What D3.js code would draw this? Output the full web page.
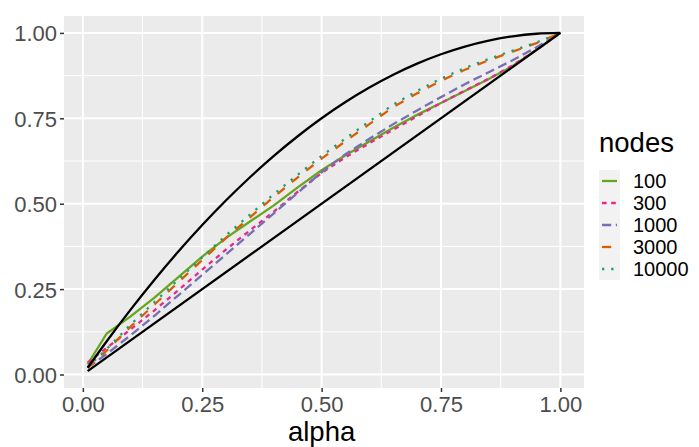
<!DOCTYPE html>
<html>
<head>
<meta charset="utf-8">
<script src="https://cdn.jsdelivr.net/npm/d3@7"></script>
<style>
  body { margin: 0; background: #fff; }
  svg text { font-family: "Liberation Sans", Arial, sans-serif; }
</style>
</head>
<body>
<svg id="chart" width="699" height="447"></svg>
<script>
// alpha grid shared by every series
const alpha = [0.01, 0.05, 0.10, 0.15, 0.20, 0.25, 0.30, 0.35, 0.40, 0.45, 0.50,
               0.55, 0.60, 0.65, 0.70, 0.75, 0.80, 0.85, 0.90, 0.95, 1.00];

const nodes = ["100", "300", "1000", "3000", "10000"];

// values, one array per node count
const n100   = [0.03, 0.12, 0.17, 0.225, 0.285, 0.345, 0.40, 0.448, 0.495, 0.548, 0.598,
                0.642, 0.682, 0.722, 0.76, 0.795, 0.83, 0.865, 0.903, 0.95, 1.00];
const n300   = [0.035, 0.078, 0.132, 0.188, 0.247, 0.307, 0.366, 0.422, 0.477, 0.535, 0.59,
                0.636, 0.677, 0.717, 0.756, 0.795, 0.831, 0.866, 0.905, 0.95, 1.00];
const n1000  = [0.02, 0.06, 0.115, 0.172, 0.232, 0.292, 0.352, 0.412, 0.472, 0.532, 0.592,
                0.645, 0.69, 0.733, 0.773, 0.812, 0.85, 0.885, 0.92, 0.958, 1.00];
const n3000  = [0.02, 0.07, 0.14, 0.205, 0.27, 0.335, 0.40, 0.46, 0.52, 0.577, 0.632,
                0.683, 0.733, 0.783, 0.823, 0.86, 0.892, 0.92, 0.945, 0.97, 1.00];
const n10000 = [0.022, 0.075, 0.146, 0.212, 0.278, 0.343, 0.408, 0.468, 0.528, 0.585, 0.64,
                0.691, 0.741, 0.79, 0.83, 0.866, 0.897, 0.924, 0.948, 0.972, 1.00];

// black reference curves
const upperBound = [0.0199, 0.0975, 0.19, 0.2775, 0.36, 0.4375, 0.51, 0.5775, 0.64, 0.6975, 0.75,
                    0.7975, 0.84, 0.8775, 0.91, 0.9375, 0.96, 0.9775, 0.99, 0.9975, 1.00];
const lowerX = [0.01, 1.00];
const lowerBound = [0.01, 1.00];

const xTicks = [0, 0.25, 0.5, 0.75, 1];
const yTicks = [0, 0.25, 0.5, 0.75, 1];

const series = [n100, n300, n1000, n3000, n10000];
const colors = ["#66A61E", "#E7298A", "#7570B3", "#D95F02", "#1B9E77"];
const lw = 2.3;
const dashes = [null, `${lw*2},${lw*2}`, `${lw*4},${lw*2}`, `${lw*4},${lw*4}`, `${lw},${lw*3}`];

const svg = d3.select("#chart");
const panel = {left: 64, right: 584, top: 16, bottom: 388};

// ggplot-style 5% expansion of the data range 0.01..1
const x = d3.scaleLinear().domain([-0.0395, 1.0495]).range([panel.left, panel.right]);
const y = d3.scaleLinear().domain([-0.0395, 1.0495]).range([panel.bottom, panel.top]);

svg.append("rect")
  .attr("x", panel.left).attr("y", panel.top)
  .attr("width", panel.right - panel.left)
  .attr("height", panel.bottom - panel.top)
  .attr("fill", "#EBEBEB");

// minor grid then major grid
const minor = [0.125, 0.375, 0.625, 0.875];
const grid = svg.append("g");
grid.selectAll(".vminor").data(minor).join("line")
  .attr("x1", d => x(d)).attr("x2", d => x(d))
  .attr("y1", panel.top).attr("y2", panel.bottom)
  .attr("stroke", "#fff").attr("stroke-width", 1);
grid.selectAll(".hminor").data(minor).join("line")
  .attr("y1", d => y(d)).attr("y2", d => y(d))
  .attr("x1", panel.left).attr("x2", panel.right)
  .attr("stroke", "#fff").attr("stroke-width", 1);
grid.selectAll(".vmajor").data(xTicks).join("line")
  .attr("x1", d => x(d)).attr("x2", d => x(d))
  .attr("y1", panel.top).attr("y2", panel.bottom)
  .attr("stroke", "#fff").attr("stroke-width", 2);
grid.selectAll(".hmajor").data(yTicks).join("line")
  .attr("y1", d => y(d)).attr("y2", d => y(d))
  .attr("x1", panel.left).attr("x2", panel.right)
  .attr("stroke", "#fff").attr("stroke-width", 2);

// axes
const xAxis = svg.append("g")
  .attr("transform", `translate(0,${panel.bottom})`)
  .call(d3.axisBottom(x).tickValues(xTicks).tickFormat(d3.format(".2f")).tickSize(4).tickPadding(4));
const yAxis = svg.append("g")
  .attr("transform", `translate(${panel.left},0)`)
  .call(d3.axisLeft(y).tickValues(yTicks).tickFormat(d3.format(".2f")).tickSize(4).tickPadding(3));
[xAxis, yAxis].forEach(a => {
  a.select(".domain").remove();
  a.selectAll(".tick line").attr("stroke", "#333333").attr("stroke-width", 1.5);
  a.selectAll(".tick text").attr("fill", "#4D4D4D").attr("font-size", 22);
});
yAxis.selectAll(".tick text").attr("dy", "0.36em");

svg.append("text")
  .attr("x", (x(0) + x(1)) / 2).attr("y", 441)
  .attr("text-anchor", "middle")
  .attr("font-size", 27.5)
  .text("alpha");

// data lines
const plot = svg.append("g");
series.forEach((s, k) => {
  plot.append("path")
    .attr("d", d3.line().x((d, i) => x(alpha[i])).y(d => y(d))(s))
    .attr("fill", "none")
    .attr("stroke", colors[k])
    .attr("stroke-width", lw)
    .attr("stroke-dasharray", dashes[k]);
});

plot.append("path")
  .attr("d", d3.line().curve(d3.curveMonotoneX).x((d, i) => x(alpha[i])).y(d => y(d))(upperBound))
  .attr("fill", "none").attr("stroke", "#000").attr("stroke-width", lw);
plot.append("path")
  .attr("d", d3.line().x((d, i) => x(lowerX[i])).y(d => y(d))(lowerBound))
  .attr("fill", "none").attr("stroke", "#000").attr("stroke-width", lw);

// legend
const legend = svg.append("g").attr("transform", "translate(599,0)");
legend.append("text")
  .attr("x", 0).attr("y", 152)
  .attr("font-size", 27.5)
  .text("nodes");
const keyH = 22, keyTop = 170;
const items = legend.selectAll(".item").data(nodes).join("g")
  .attr("transform", (d, i) => `translate(0,${keyTop + i * keyH})`);
items.append("rect")
  .attr("width", 21).attr("height", keyH)
  .attr("fill", "#F2F2F2");
items.append("line")
  .attr("x1", 3).attr("x2", 18)
  .attr("y1", keyH / 2).attr("y2", keyH / 2)
  .attr("stroke", (d, i) => colors[i])
  .attr("stroke-width", lw)
  .attr("stroke-dasharray", (d, i) => dashes[i]);
items.append("text")
  .attr("x", 34).attr("y", keyH / 2)
  .attr("dy", "0.36em")
  .attr("font-size", 20)
  .text(d => d);
</script>
</body>
</html>
